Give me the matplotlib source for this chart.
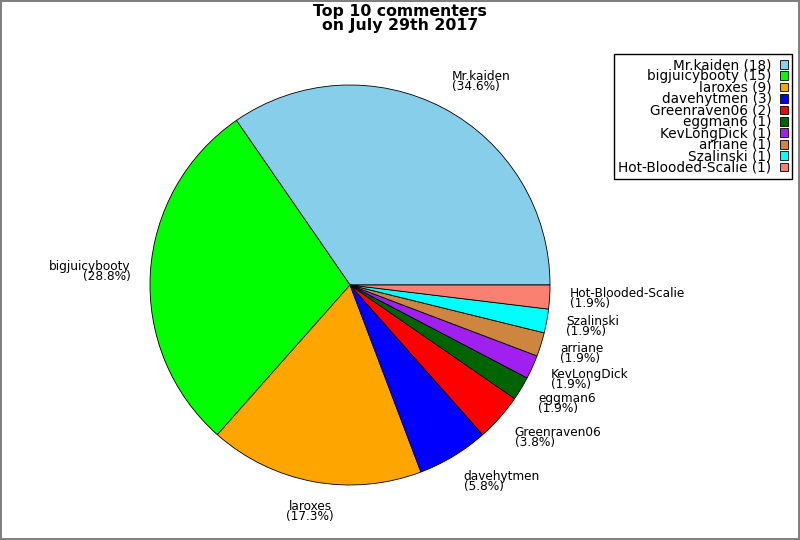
import numpy as np
import matplotlib.pyplot as plt

# Datos: comentaristas y número de comentarios
nombres = ["Mr.kaiden", "bigjuicybooty", "laroxes", "davehytmen", "Greenraven06",
           "eggman6", "KevLongDick", "arriane", "Szalinski", "Hot-Blooded-Scalie"]
comentarios = [18, 15, 9, 3, 2, 1, 1, 1, 1, 1]
colores = ["#87CEEB", "#00FF00", "#FFA500", "#0000FF", "#FF0000",
           "#006400", "#A020F0", "#CD853F", "#00FFFF", "#FA8072"]

total = sum(comentarios)
etiquetas = [f"{n}\n({100 * c / total:.1f}%)" for n, c in zip(nombres, comentarios)]
leyenda = [f"{n} ({c})" for n, c in zip(nombres, comentarios)]

fig = plt.figure(figsize=(8, 5.4), dpi=100)
fig.patch.set_edgecolor("#808080")
fig.patch.set_linewidth(1.5)

# Ejes colocados para que el centro quede en (350, 285) px y radio 200 px
ax = fig.add_axes([150 / 800, 55 / 540, 400 / 800, 400 / 540])
wedges, textos = ax.pie(comentarios, labels=etiquetas, colors=colores, startangle=0,
                        counterclock=True, labeldistance=1.1,
                        wedgeprops=dict(edgecolor="black", linewidth=0.6),
                        textprops=dict(fontsize=8.7, linespacing=0.7))
# Ajuste de etiquetas: algo más separadas en vertical, centradas si están casi abajo/arriba
for w, t in zip(wedges, textos):
    ang = np.deg2rad((w.theta1 + w.theta2) / 2)
    t.set_y(1.15 * np.sin(ang))
    if abs(np.cos(ang)) < 0.3:
        t.set_ha("center")
ax.set_xlim(-1, 1)
ax.set_ylim(-1, 1)
ax.set_aspect("equal")
ax.axis("off")

fig.suptitle("Top 10 commenters\non July 29th 2017", fontsize=11.3, fontweight="bold",
             y=1 - 4 / 540, va="top", linespacing=0.95)

leg = fig.legend(wedges, leyenda, loc="upper right",
                 bbox_to_anchor=(792 / 800, 1 - 54 / 540), bbox_transform=fig.transFigure,
                 borderaxespad=0, markerfirst=False, fontsize=9.8, labelspacing=-0.19,
                 handlelength=0.6, handleheight=0.6, handletextpad=0.6,
                 borderpad=0.3, fancybox=False, edgecolor="black", framealpha=1)
leg.get_frame().set_linewidth(1)
for t in leg.get_texts():
    t.set_ha("right")

plt.savefig("out.png", dpi=100)
